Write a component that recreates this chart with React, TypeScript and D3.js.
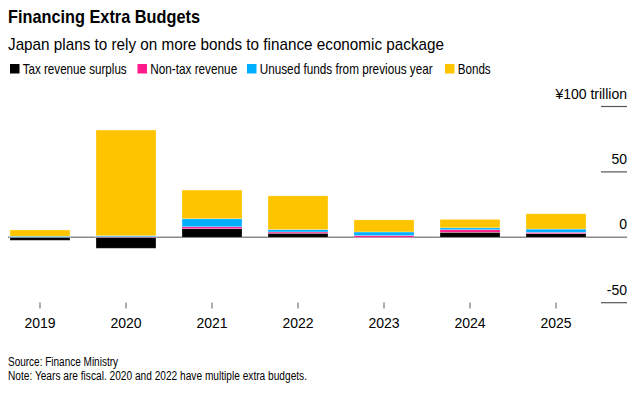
import React, { useEffect } from "react";
import { scaleBand, scaleLinear, stack, stackOffsetDiverging } from "d3";

// fiscal years and the four funding sources, ¥ trillion
const years = ["2019", "2020", "2021", "2022", "2023", "2024", "2025"];
const taxSurplus = [-2.3, -8.4, 6.6, 3.1, 0, 3.8, 2.8];
const nonTax = [0, 0.4, 1.5, 1.0, 1.3, 2.0, 1.0];
const unusedFunds = [0.8, 0.8, 6.1, 1.8, 2.8, 1.5, 2.5];
const bonds = [4.8, 80.8, 21.9, 25.8, 9.2, 6.4, 11.7];

const yTicks = [-50, 0, 50, 100];

const keys = ["tax", "nontax", "unused", "bonds"];
const labels = {
  tax: "Tax revenue surplus",
  nontax: "Non-tax revenue",
  unused: "Unused funds from previous year",
  bonds: "Bonds",
};
const colors = {
  tax: "#000000",
  nontax: "#ff1a8c",
  unused: "#00b0ff",
  bonds: "#ffc400",
};

const FONT = "'Liberation Sans', Arial, Helvetica, sans-serif";

export default function App() {
  useEffect(() => {
    document.body.style.margin = "0";
  }, []);

  const width = 644;
  const height = 395;

  const rows = years.map((y, i) => ({
    year: y,
    tax: taxSurplus[i],
    nontax: nonTax[i],
    unused: unusedFunds[i],
    bonds: bonds[i],
  }));

  const layers = stack().keys(keys).offset(stackOffsetDiverging)(rows);

  const x = scaleBand()
    .domain(years)
    .range([-3, 599])
    .paddingInner(0.3023)
    .paddingOuter(0.151);

  const y = scaleLinear().domain([-50, 100]).range([302.7, 106.5]);

  // legend layout (the original font is narrower, so widths are pinned)
  const legendX = [10, 137.5, 247, 445];
  const legendW = [104, 87, 173, 33];

  return (
    <svg width={width} height={height} style={{ display: "block", fontFamily: FONT }}>
      <rect width={width} height={height} fill="#fff" />

      <text x={8} y={23} fontSize={19} fontWeight="bold" fill="#000"
        textLength={192} lengthAdjust="spacingAndGlyphs">
        Financing Extra Budgets
      </text>
      <text x={8} y={50} fontSize={17} fill="#000"
        textLength={436} lengthAdjust="spacingAndGlyphs">
        Japan plans to rely on more bonds to finance economic package
      </text>

      {keys.map((k, i) => (
        <g key={k} transform={`translate(${legendX[i]},64)`}>
          <rect width={9.5} height={9.5} fill={colors[k]} />
          <text x={12.7} y={10} fontSize={15} fill="#000"
            textLength={legendW[i]} lengthAdjust="spacingAndGlyphs">
            {labels[k]}
          </text>
        </g>
      ))}

      {/* right axis */}
      {yTicks.map((t) => (
        <g key={t}>
          <line
            x1={t === 0 ? 8 : 601}
            x2={627}
            y1={y(t)}
            y2={y(t)}
            stroke={t === 0 ? "#8a8a8a" : "#555"}
            strokeWidth={t === 0 ? 1.6 : 1.2}
          />
          <text x={627} y={y(t) - 8} textAnchor="end" fontSize={14} fill="#000">
            {t === 100 ? "¥100 trillion" : t}
          </text>
        </g>
      ))}

      {/* bars */}
      {layers.map((layer) => (
        <g key={layer.key} fill={colors[layer.key]}>
          {layer.map((d, i) => {
            const top = y(Math.max(d[0], d[1]));
            const h = Math.abs(y(d[0]) - y(d[1]));
            if (h <= 0) return null;
            return (
              <rect
                key={i}
                x={x(d.data.year)}
                y={top}
                width={x.bandwidth()}
                height={h}
                stroke="rgba(255,255,255,0.35)"
                strokeWidth={0.8}
              />
            );
          })}
        </g>
      ))}

      {/* x axis */}
      {years.map((yr) => {
        const cx = x(yr) + x.bandwidth() / 2;
        return (
          <g key={yr}>
            <line x1={cx} x2={cx} y1={302.5} y2={308.5} stroke="#777" strokeWidth={1.2} />
            <text x={cx} y={328} textAnchor="middle" fontSize={14} fill="#000">
              {yr}
            </text>
          </g>
        );
      })}

      <text x={8} y={366} fontSize={12.5} fill="#000"
        textLength={110} lengthAdjust="spacingAndGlyphs">
        Source: Finance Ministry
      </text>
      <text x={8} y={380} fontSize={12.5} fill="#000"
        textLength={299} lengthAdjust="spacingAndGlyphs">
        Note: Years are fiscal. 2020 and 2022 have multiple extra budgets.
      </text>
    </svg>
  );
}
